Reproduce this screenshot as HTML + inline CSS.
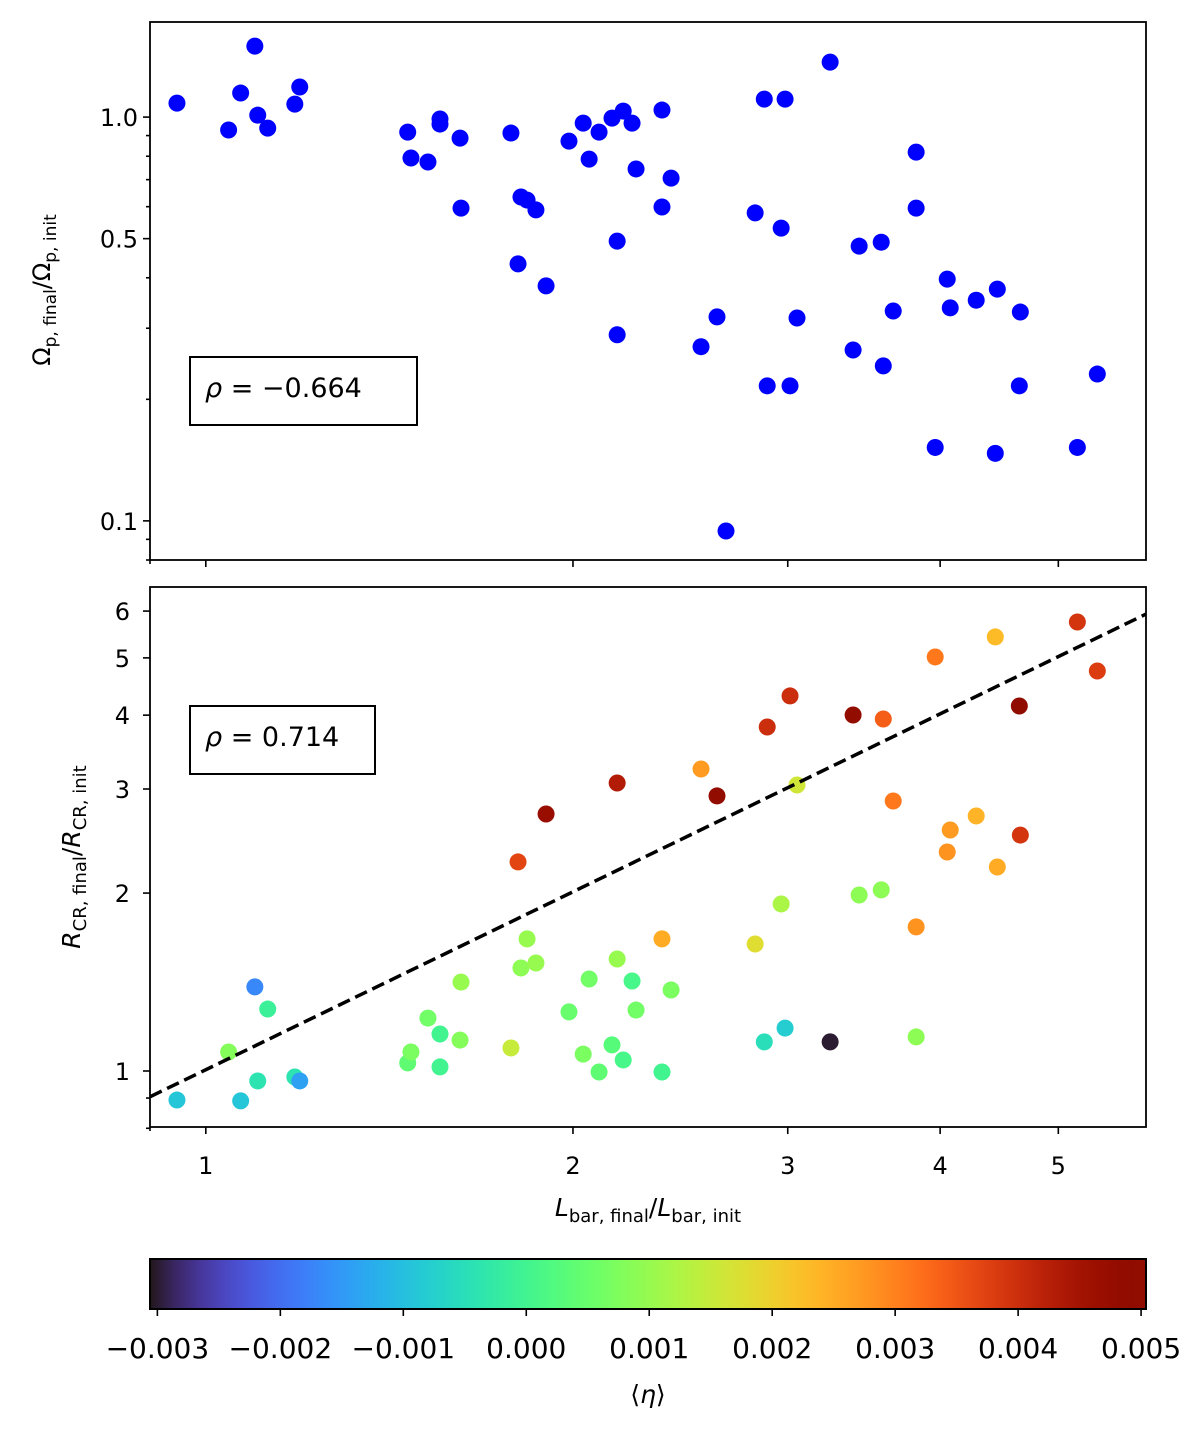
<!DOCTYPE html>
<html><head><meta charset="utf-8">
<style>
html,body{margin:0;padding:0;background:#fff;}
svg{display:block;font-family:"DejaVu Sans","Liberation Sans",sans-serif;}
</style></head>
<body>
<svg id="fig" width="1200" height="1437" viewBox="0 0 1200 1437" xmlns="http://www.w3.org/2000/svg">
<defs>
<clipPath id="clipTop"><rect x="150" y="22" width="996" height="538"/></clipPath>
<clipPath id="clipBot"><rect x="150" y="587" width="996" height="540"/></clipPath>
<linearGradient id="cbgrad" x1="0" x2="1" y1="0" y2="0"></linearGradient>
</defs>
<g id="topPts" clip-path="url(#clipTop)"></g>
<g id="botPts" clip-path="url(#clipBot)"></g>
<g id="axes"></g>
<rect x="150" y="22" width="996" height="538" fill="none" stroke="#000" stroke-width="1.8"/>
<rect x="150" y="587" width="996" height="540" fill="none" stroke="#000" stroke-width="1.8"/>

<g>
<rect x="190" y="357" width="227" height="68" fill="#fff" stroke="#000" stroke-width="2"/>
<text x="205" y="397" font-size="27"><tspan font-style="italic">ρ</tspan> = −0.664</text>
</g>
<g>
<rect x="190" y="706" width="185" height="68" fill="#fff" stroke="#000" stroke-width="2"/>
<text x="205" y="746" font-size="27"><tspan font-style="italic">ρ</tspan> = 0.714</text>
</g>

<text transform="translate(50,290) rotate(-90)" text-anchor="middle" font-size="24">Ω<tspan font-size="17" dy="6">p, final</tspan><tspan dy="-6">/Ω</tspan><tspan font-size="17" dy="6">p, init</tspan></text>
<text transform="translate(80,857) rotate(-90)" text-anchor="middle" font-size="25"><tspan font-style="italic">R</tspan><tspan font-size="18" dy="6">CR, final</tspan><tspan dy="-6">/</tspan><tspan font-style="italic">R</tspan><tspan font-size="18" dy="6">CR, init</tspan></text>
<text x="648" y="1216" text-anchor="middle" font-size="25"><tspan font-style="italic">L</tspan><tspan font-size="18" dy="6">bar, final</tspan><tspan dy="-6">/</tspan><tspan font-style="italic">L</tspan><tspan font-size="18" dy="6">bar, init</tspan></text>

<rect x="150" y="1259" width="996" height="50" fill="url(#cbgrad)" stroke="#000" stroke-width="2"/>
<g id="cbticks"></g>
<text x="648" y="1403" text-anchor="middle" font-size="25">⟨<tspan font-style="italic">η</tspan>⟩</text>
</svg>
<script>
const lbarRatio = [0.947,1.044,1.068,1.097,1.103,1.124,1.183,1.194,1.464,1.473,1.521,1.556,1.556,1.616,1.619,1.779,1.803,1.813,1.834,1.865,1.901,1.985,2.039,2.062,2.101,2.153,2.174,2.174,2.199,2.236,2.253,2.366,2.366,2.407,2.547,2.625,2.670,2.821,2.870,2.886,2.963,2.985,3.013,3.053,3.250,3.394,3.433,3.579,3.593,3.661,3.823,3.823,3.963,4.054,4.077,4.282,4.439,4.456,4.645,4.654,5.183,5.382];
const omegaRatio = [1.083,0.929,1.147,1.499,1.011,0.939,1.077,1.187,0.918,0.792,0.774,0.989,0.961,0.887,0.595,0.913,0.433,0.634,0.623,0.589,0.382,0.872,0.966,0.787,0.918,0.994,0.493,0.289,1.035,0.966,0.744,1.041,0.599,0.706,0.270,0.320,0.0944,0.579,1.108,0.216,0.531,1.108,0.216,0.318,1.368,0.265,0.479,0.490,0.242,0.331,0.819,0.595,0.152,0.397,0.337,0.352,0.147,0.375,0.216,0.329,0.152,0.231];
const rcrRatio = [0.893,1.077,0.890,1.388,0.962,1.273,0.977,0.962,1.032,1.077,1.229,1.155,1.016,1.128,1.414,1.094,2.258,1.494,1.673,1.523,2.722,1.259,1.068,1.431,0.996,1.107,1.547,3.071,1.044,1.420,1.268,0.996,1.673,1.371,3.243,2.920,10.0,1.640,1.120,3.820,1.917,1.182,4.311,3.047,1.120,4.003,1.985,2.025,3.941,2.863,1.142,1.753,5.018,2.347,2.557,2.701,5.425,2.214,4.145,2.507,5.750,4.751];
const etaMean = [-0.0009,0.0008,-0.0009,-0.0017,-0.0004,-0.0001,-0.0004,-0.0014,0.0004,0.0007,0.0006,0.0000,0.0000,0.0008,0.0010,0.0015,0.0037,0.0009,0.0010,0.0010,0.0047,0.0005,0.0007,0.0006,0.0004,0.0003,0.0010,0.0043,0.0001,0.0001,0.0006,0.0000,0.0025,0.0007,0.0027,0.0048,0.0045,0.0018,-0.0005,0.0040,0.0012,-0.0008,0.0040,0.0016,-0.0030,0.0048,0.0009,0.0009,0.0034,0.0031,0.0009,0.0028,0.0031,0.0028,0.0027,0.0024,0.0023,0.0025,0.0050,0.0039,0.0039,0.0038];
const xTicks = [1,2,3,4,5];
const xMinor = [0.9,6];
const topTicks = [0.1,0.5,1.0];
const topTickLabels = ["0.1","0.5","1.0"];
const topMinor = [0.08,0.09,0.2,0.3,0.4,0.6,0.7,0.8,0.9];
const botTicks = [1,2,3,4,5,6];
const botMinor = [0.8,0.9];
const cbTicks = [-0.003,-0.002,-0.001,0.000,0.001,0.002,0.003,0.004,0.005];
const cbTickLabels = ["−0.003","−0.002","−0.001","0.000","0.001","0.002","0.003","0.004","0.005"];
const fitSlope = 1.0;
const fitIntercept = 1.005;

const NS="http://www.w3.org/2000/svg";
const X0=150,X1=1146, xMin=0.9, xMax=5.9;
const sx=v=>X0+(Math.log10(v)-Math.log10(xMin))/(Math.log10(xMax)-Math.log10(xMin))*(X1-X0);
const T0=22,T1=560,tMin=0.08,tMax=1.72;
const syT=v=>T1-(Math.log10(v)-Math.log10(tMin))/(Math.log10(tMax)-Math.log10(tMin))*(T1-T0);
const B0=587,B1=1127,bMin=0.804,bMax=6.59;
const syB=v=>B1-(Math.log10(v)-Math.log10(bMin))/(Math.log10(bMax)-Math.log10(bMin))*(B1-B0);
const cMin=-0.00306,cMax=0.00504;
const sc=v=>X0+(v-cMin)/(cMax-cMin)*(X1-X0);
function turbo(t){t=Math.max(0,Math.min(1,t));
 const r=0.13572138+t*(4.61539260+t*(-42.66032258+t*(132.13108234+t*(-152.94239396+t*59.28637943))));
 const g=0.09140261+t*(2.19418839+t*(4.84296658+t*(-14.18503333+t*(4.27729857+t*2.82956604))));
 const b=0.10667330+t*(12.64194608+t*(-60.58204836+t*(110.36276771+t*(-89.90310912+t*27.34824973))));
 const c=x=>Math.round(Math.max(0,Math.min(1,x))*255);
 return `rgb(${c(r)},${c(g)},${c(b)})`;}
function mk(tag,attrs,parent){const e=document.createElementNS(NS,tag);for(const k in attrs)e.setAttribute(k,attrs[k]);parent.appendChild(e);return e;}
const topG=document.getElementById('topPts'),botG=document.getElementById('botPts'),ax=document.getElementById('axes');
for(let i=0;i<lbarRatio.length;i++){
 const a=mk('circle',{cx:sx(lbarRatio[i]),cy:syT(omegaRatio[i]),r:8.5,fill:'#0000ff'},topG);
 
 
 const b=mk('circle',{cx:sx(lbarRatio[i]),cy:syB(rcrRatio[i]),r:8.5,fill:turbo((etaMean[i]-cMin)/(cMax-cMin))},botG);
 
 
}
const fl=mk('line',{x1:sx(xMin),y1:syB(fitIntercept*Math.pow(xMin,fitSlope)),x2:sx(xMax),y2:syB(fitIntercept*Math.pow(xMax,fitSlope)),stroke:'#000','stroke-width':3.5,'stroke-dasharray':'13,6'},botG);


function tick(x1,y1,x2,y2){mk('line',{x1,y1,x2,y2,stroke:'#000','stroke-width':1.6},ax);}
function label(x,y,s,anchor,name){const t=mk('text',{x,y,'text-anchor':anchor,'font-size':24},ax);t.textContent=s;
 
 }
xTicks.forEach(v=>{const x=sx(v);tick(x,560,x,567);tick(x,1127,x,1134);label(x,1174,String(v),'middle','x-tick-label');});
xMinor.forEach(v=>{const x=sx(v);if(x<=X1+1){tick(x,560,x,564);tick(x,1127,x,1131);}});
topTicks.forEach((v,i)=>{const y=syT(v);tick(143,y,150,y);label(138,y+9,topTickLabels[i],'end','top-y-tick-label');});
topMinor.forEach(v=>{const y=syT(v);tick(146,y,150,y);});
botTicks.forEach(v=>{const y=syB(v);tick(143,y,150,y);label(130,y+9,String(v),'end','bottom-y-tick-label');});
botMinor.forEach(v=>{const y=syB(v);tick(146,y,150,y);});
const cbt=document.getElementById('cbticks');
cbTicks.forEach((v,i)=>{const x=sc(v);mk('line',{x1:x,y1:1309,x2:x,y2:1316,stroke:'#000','stroke-width':1.6},cbt);
 const t=mk('text',{x,y:1358,'text-anchor':'middle','font-size':28},cbt);t.textContent=cbTickLabels[i];
 
 });
const grad=document.getElementById('cbgrad');
for(let i=0;i<=40;i++){mk('stop',{offset:(i/40),'stop-color':turbo(i/40)},grad);}
</script>
</body></html>
